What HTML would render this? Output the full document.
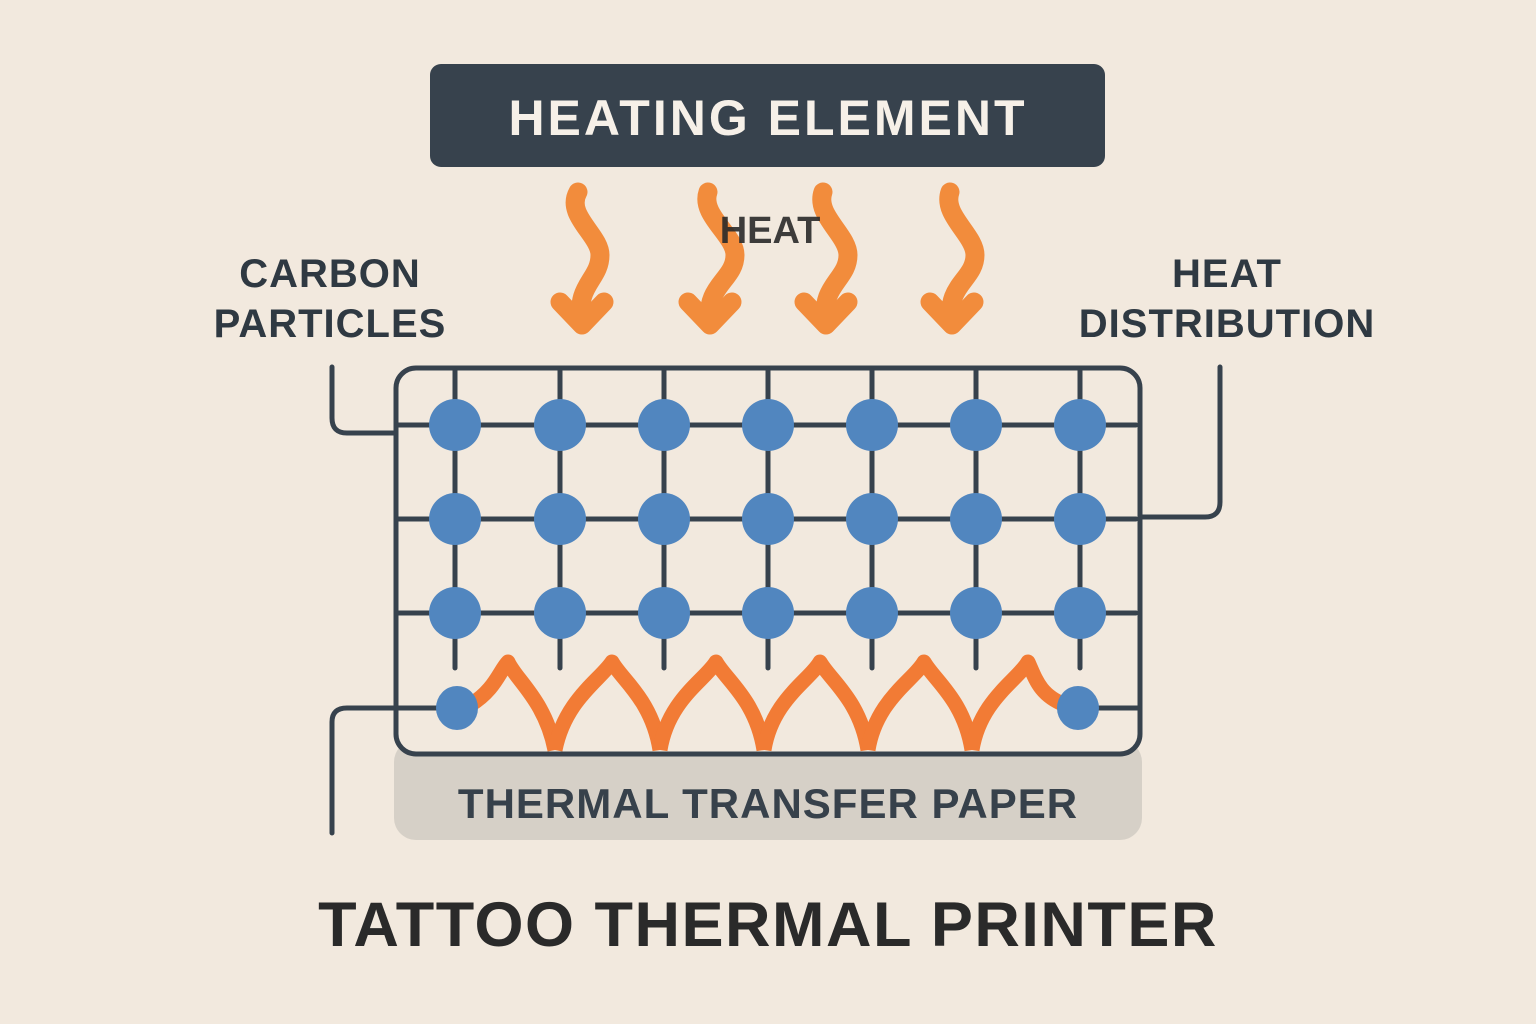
<!DOCTYPE html>
<html><head><meta charset="utf-8"><style>
html,body{margin:0;padding:0;background:#f2e9de;}
svg{display:block}
text{font-family:"Liberation Sans",sans-serif;font-weight:bold}
</style></head><body>
<svg width="1536" height="1024" viewBox="0 0 1536 1024">
<rect width="1536" height="1024" fill="#f2e9de"/>
<rect x="430" y="64" width="675" height="103" rx="11" fill="#37424d"/>
<text x="768" y="135" text-anchor="middle" font-size="50" fill="#f6f0e8" letter-spacing="3">HEATING ELEMENT</text>
<g fill="none" stroke="#f28c3c" stroke-width="19" stroke-linecap="round" stroke-linejoin="round">
<path d="M578 192 C565 215,600 235,600 255 C600 280,575 285,582 322"/>
<path d="M560 302 L582 325 L604 302"/>
<path d="M708 192 C700 215,735 235,735 255 C735 280,705 285,710 322"/>
<path d="M688 302 L710 325 L732 302"/>
<path d="M823 192 C815 215,848 235,848 255 C848 280,820 285,826 322"/>
<path d="M804 302 L826 325 L848 302"/>
<path d="M950 192 C942 215,975 235,975 255 C975 280,945 285,952 322"/>
<path d="M930 302 L952 325 L974 302"/>
</g>
<text x="770" y="243" text-anchor="middle" font-size="38" fill="#2a2a2a" opacity="0.9">HEAT</text>
<text x="330" y="287" text-anchor="middle" font-size="40" fill="#2f3942" letter-spacing="1">CARBON</text>
<text x="330" y="337" text-anchor="middle" font-size="40" fill="#2f3942" letter-spacing="1">PARTICLES</text>
<text x="1227" y="287" text-anchor="middle" font-size="40" fill="#2f3942" letter-spacing="1">HEAT</text>
<text x="1227" y="337" text-anchor="middle" font-size="40" fill="#2f3942" letter-spacing="1">DISTRIBUTION</text>
<rect x="394" y="740" width="748" height="100" rx="22" fill="#d6d0c7"/>
<text x="768" y="818" text-anchor="middle" font-size="42" fill="#37414b" letter-spacing="1">THERMAL TRANSFER PAPER</text>
<g stroke="#37424d" stroke-width="5" fill="none" stroke-linecap="round">
<rect x="396" y="368" width="744" height="386" rx="20" fill="#f2e9de"/>
<path d="M332 367 V418 Q332 433 347 433 H396"/>
<path d="M1220 367 V502 Q1220 517 1205 517 H1140"/>
<path d="M332 833 V722 Q332 708 347 708 H396"/>
<path d="M455 370V668M560 370V668M664 370V668M768 370V668M872 370V668M976 370V668M1080 370V668"/>
<path d="M396 425H1136M396 519H1136M396 613H1136M396 708H440M1095 708H1138"/>
</g>
<g fill="none" stroke="#f27b35" stroke-width="15" stroke-linejoin="round">
<path d="M470 705 C495 690,500 670,508 662 C516 680,545 700,555 750"/>
<path d="M555 750 C565 700,600 680,612 662 C622 680,652 700,660 750"/>
<path d="M660 750 C668 700,705 680,716 662 C726 680,756 700,764 750"/>
<path d="M764 750 C772 700,810 680,820 662 C830 680,860 700,868 750"/>
<path d="M868 750 C876 700,914 680,924 662 C934 680,964 700,972 750"/>
<path d="M972 750 C980 700,1018 680,1028 662 C1036 680,1040 695,1065 705"/>
</g>
<g fill="#5186bf">
<circle cx="455" cy="425" r="26"/><circle cx="560" cy="425" r="26"/><circle cx="664" cy="425" r="26"/><circle cx="768" cy="425" r="26"/><circle cx="872" cy="425" r="26"/><circle cx="976" cy="425" r="26"/><circle cx="1080" cy="425" r="26"/>
<circle cx="455" cy="519" r="26"/><circle cx="560" cy="519" r="26"/><circle cx="664" cy="519" r="26"/><circle cx="768" cy="519" r="26"/><circle cx="872" cy="519" r="26"/><circle cx="976" cy="519" r="26"/><circle cx="1080" cy="519" r="26"/>
<circle cx="455" cy="613" r="26"/><circle cx="560" cy="613" r="26"/><circle cx="664" cy="613" r="26"/><circle cx="768" cy="613" r="26"/><circle cx="872" cy="613" r="26"/><circle cx="976" cy="613" r="26"/><circle cx="1080" cy="613" r="26"/>
<ellipse cx="457" cy="708" rx="21" ry="22"/><ellipse cx="1078" cy="708" rx="21" ry="22"/>
</g>
<text x="768" y="946" text-anchor="middle" font-size="63" fill="#2a2a2a" letter-spacing="1.5">TATTOO THERMAL PRINTER</text>
</svg>
</body></html>
